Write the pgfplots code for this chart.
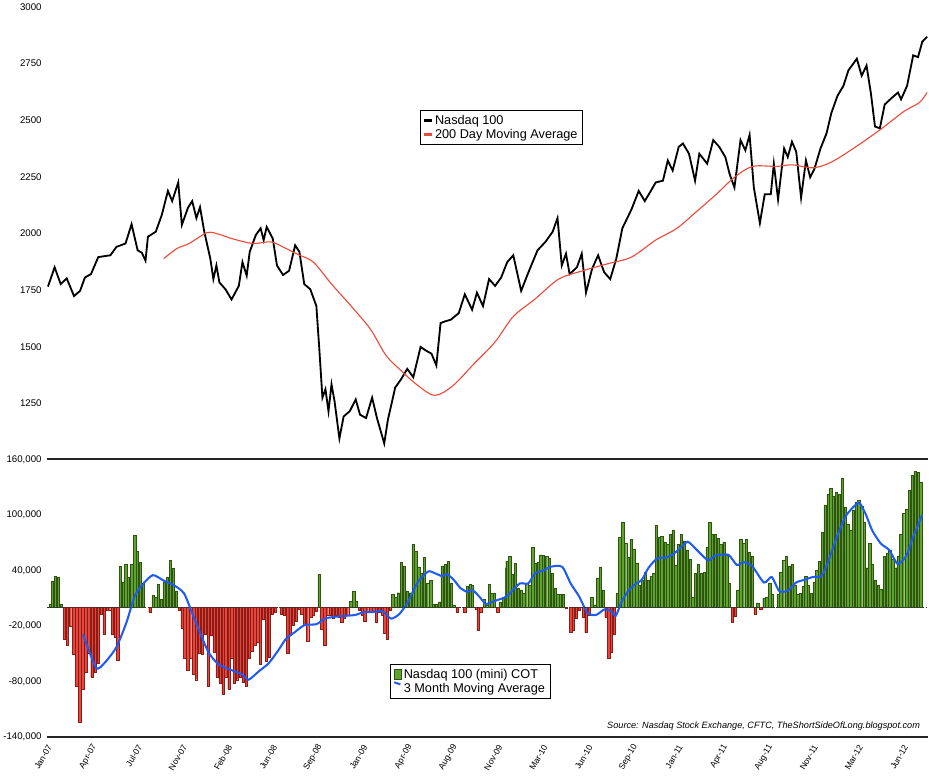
\documentclass[border=0pt]{standalone}
\usepackage{pgfplots}
\pgfplotsset{compat=1.18}
\usepackage{pgfplotstable}
\usepackage{fontspec}
\setmainfont{Liberation Sans}
\definecolor{barg}{HTML}{5EA32C}
\definecolor{bargd}{HTML}{2F5412}
\definecolor{barr}{HTML}{E8453C}
\definecolor{barrd}{HTML}{8A1E17}
\definecolor{maline}{HTML}{1F5BF2}
\definecolor{dma}{HTML}{EE4A3A}

\pgfplotstableread{
zx v
97 1766
108 1851
118 1777
128 1802
140 1724
150 1747
158 1806
168 1821
180 1896
200 1904
210 1941
225 1956
235 2041
245 1926
252 1915
258 1880
262 1986
275 2008
285 2083
295 2188
302 2143
312 2225
318 2038
328 2113
335 2143
342 2068
348 2116
355 2008
365 1889
370 1799
375 1859
380 1784
390 1754
400 1709
412 1769
418 1874
425 1814
430 1919
440 1993
448 2023
453 1971
458 2029
468 1978
475 1859
485 1817
495 1836
505 1948
512 1919
520 1777
530 1754
540 1680
545 1485
550 1276
555 1313
560 1216
565 1335
570 1260
578 1096
585 1193
595 1216
605 1268
612 1201
622 1186
632 1276
640 1186
652 1074
658 1178
665 1260
670 1320
680 1358
690 1403
700 1366
712 1500
720 1485
730 1470
738 1418
745 1605
752 1612
762 1620
775 1649
785 1732
797 1664
805 1739
815 1680
825 1799
835 1769
845 1806
855 1874
865 1904
878 1747
890 1829
905 1926
918 1963
930 2008
938 2068
945 1859
952 1911
958 1821
970 1851
978 1911
985 1739
995 1844
1005 1904
1015 1829
1025 1799
1035 1889
1045 2023
1060 2106
1072 2188
1082 2143
1092 2188
1100 2225
1112 2233
1120 2322
1128 2278
1138 2382
1145 2397
1155 2352
1165 2233
1172 2352
1185 2308
1195 2412
1205 2382
1215 2337
1222 2263
1230 2203
1240 2412
1248 2367
1255 2435
1262 2203
1272 2046
1280 2173
1290 2173
1295 2308
1302 2150
1312 2375
1318 2337
1325 2405
1332 2360
1340 2158
1348 2322
1355 2248
1362 2285
1372 2375
1382 2442
1390 2532
1400 2607
1410 2652
1418 2719
1432 2771
1440 2696
1448 2741
1455 2622
1462 2472
1470 2464
1478 2569
1490 2599
1500 2622
1505 2592
1515 2652
1525 2786
1533 2778
1540 2846
1548 2868
}\nasdaq

\pgfplotstableread{
zx v
288 1889
310 1934
330 1956
360 2004
380 1996
400 1978
435 1956
465 1963
490 1934
510 1907
535 1874
565 1777
600 1672
630 1575
655 1462
680 1395
705 1335
735 1286
765 1328
800 1425
835 1522
865 1634
900 1709
940 1799
980 1836
1020 1866
1060 1896
1100 1971
1135 2023
1165 2091
1200 2173
1230 2248
1260 2296
1300 2296
1325 2303
1360 2290
1390 2315
1430 2382
1470 2457
1510 2539
1535 2577
1548 2622
}\dma

\pgfplotstableread{
zx v
15 4
21 28
30 34
39 33
48 4
57 -34
66 -41
75 -20
84 -50
93 -85
102 -124
111 -88
120 -70
129 -49
138 -75
147 -70
156 -60
165 -7
174 -29
183 -3
190 -3
198 -29
206 -32
214 -57
222 45
230 27
238 47
246 33
255 47
264 78
272 61
281 49
290 26
309 -5
318 13
326 11
334 25
342 9
351 27
360 33
369 51
378 42
386 18
395 -3
404 -22
412 -55
421 -68
429 -55
438 -72
446 -78
455 -49
463 -50
472 -29
481 -85
490 -30
498 -48
507 -75
516 -82
525 -94
533 -75
542 -88
550 -55
558 -82
567 -78
575 -75
584 -81
593 -85
601 -55
609 -47
618 -41
627 -38
635 -61
643 -13
652 -58
661 -54
670 -7
678 -5
696 -7
705 -8
714 -48
}\barsA

\pgfplotstableread{
zx v
10 -49
18 -30
26 -19
35 -15
44 -2
52 -7
60 -19
69 -36
78 -11
86 -8
95 -4
103 36
111 -23
120 -41
128 -8
136 -8
145 -12
153 -8
162 -11
170 -16
178 -12
187 -8
196 7
205 18
213 7
222 -3
230 -8
238 -15
246 -5
255 -5
264 -5
272 -16
281 -5
290 -8
297 -28
304 -34
312 -3
320 14
329 11
337 16
346 49
354 45
363 18
372 16
380 68
388 61
397 44
405 37
414 54
423 26
432 29
440 4
449 4
458 6
466 45
475 47
484 50
492 26
500 2
510 -5
533 -5
540 23
548 25
555 24
566 -2
572 -25
580 -5
590 9
597 3
605 25
612 15
620 15
630 -5
637 6
646 11
655 43
}\barsB

\pgfplotstableread{
zx v
12 50
20 55
28 36
37 48
45 21
54 19
62 15
70 26
79 24
88 65
96 48
104 49
112 57
120 56
129 55
137 53
146 37
154 21
162 14
170 14
178 14
186 -1
200 -27
208 -25
216 -12
225 -3
237 -10
245 -27
254 -8
262 11
271 3
280 32
288 44
296 19
304 -10
312 -55
320 -48
329 -29
337 15
345 76
354 92
362 69
370 54
378 74
386 63
395 48
403 24
411 30
420 38
428 30
437 34
445 37
453 89
461 76
469 77
478 71
486 68
494 79
502 84
510 46
518 68
527 79
535 72
544 62
552 52
560 11
568 37
576 47
585 37
594 38
602 65
610 92
618 79
626 76
}\barsC

\pgfplotstableread{
zx v
12 79
20 75
28 68
37 71
45 56
53 26
62 -16
70 -9
78 19
87 74
95 69
103 74
112 60
120 55
129 -7
137 5
146 -2
155 10
163 11
172 26
180 14
197 14
205 38
213 51
221 55
229 45
238 47
246 24
255 14
263 15
271 23
278 34
286 24
295 15
303 27
311 40
319 50
327 81
335 111
344 122
352 129
360 120
369 125
377 122
386 140
394 108
402 90
411 84
419 105
427 114
435 116
443 109
451 92
459 43
467 69
475 47
484 30
492 24
500 20
510 55
518 59
526 62
535 52
543 43
551 55
559 79
567 102
576 106
584 127
593 143
601 147
610 146
618 135
}\barsD

\pgfplotstableread{
ox v
92.3 -29
105 -65
113.3 -60
125 -43
135 -16
143.3 13
151.7 26
161 35
171.7 29
181.7 24
191.7 15
201.7 -12
215 -47
225 -61
236.7 -67
248.3 -72
255 -78
265 -69
275 -60
285 -45
291.7 -34
300 -27
310 -19
321.7 -18
330 -12
340 -10
350 -9
360 -8
368.3 -5
376.7 -5
386.7 -4
395 -12
403.3 -7
411.7 6
421.7 28
431.7 39
438.3 37
445 34
450 36
456.7 30
463.3 21
470 17
475 19
481.7 12
488.3 4
496.7 7
505 10
510 13
513.3 17
521.7 26
530 26
536.7 37
545 40
551.7 44
563.3 44
571.7 26
580 12
588.3 -6
596.7 -8
605 -2
611.7 -4
616 -9
621.7 6
628.3 18
635 25
641.7 30
648.3 43
656.7 53
665 54
671.7 57
678.3 63
686.7 71
695 63
706.7 51
713.7 56
726.7 57
735 46
741.7 49
750 45
761.7 27
769.3 33
776.7 18
785 18
793.3 27
801.7 30
810 33
818.3 34
825 50
833.3 76
841.7 98
850 109
855.7 113
861.7 101
868.3 83
876.7 69
885 62
893.3 47
901.7 56
908.3 76
917.3 100
}\cotma

\begin{document}
\begin{tikzpicture}[font=\fontsize{9.5}{11}\selectfont]
\pgfplotsset{
  every axis/.append style={scale only axis, width=866pt,
    xmin=57, xmax=923, clip=false,
    tick style={draw=none},
    /pgf/number format/assume math mode=true,
    ticklabel style={font=\fontsize{9.5}{11}\selectfont},
    yticklabel style={xshift=-2pt},
    legend cell align=left,
    legend style={draw=black, line width=0.8pt, fill=white, font=\fontsize{12.5}{15}\selectfont, inner sep=3pt, row sep=-1pt},
    legend image code/.code={\draw[#1, line width=2.5pt] (0cm,0cm) -- (0.25cm,0cm);},
  }
}
% lower panel
\begin{axis}[name=low, at={(0,0)}, height=273pt,
  ymin=-140, ymax=160,
  axis line style={draw=none},
  ytick={-140,-80,-20,40,100,160},
  yticklabels={-140{,}000,-80{,}000,-20{,}000,40{,}000,100{,}000,160{,}000},
  xtick={59.5,103.8,148.1,192.4,236.7,281,325.3,369.6,413.9,458.2,502.5,546.8,591.1,635.4,679.7,724,768.3,812.6,856.9,901.2},
  xticklabels={Jan-07,Apr-07,Jul-07,Nov-07,Feb-08,Jun-08,Sep-08,Jan-09,Apr-09,Aug-09,Nov-09,Mar-10,Jun-10,Sep-10,Jan-11,Apr-11,Aug-11,Nov-11,Mar-12,Jun-12},
  xticklabel style={rotate=60, anchor=east, font=\fontsize{8.5}{10}\selectfont, yshift=-2pt},
  ybar, bar width=2.3pt, bar shift=0pt,
  legend style={at={(0.389,0.264)}, anchor=north west},
]
\addplot[fill=barg, draw=bargd, line width=0.4pt, restrict y to domain=0:1000,
  legend image code/.code={\draw[fill=barg, draw=bargd, line width=0.5pt] (0cm,-0.17cm) rectangle (0.25cm,0.17cm);}] table[x expr=\thisrowno{0}/3+55, y index=1]{\barsA};
\addlegendentry{Nasdaq 100 (mini) COT}
\addplot[forget plot, fill=barr, draw=barrd, line width=0.4pt, restrict y to domain=-1000:0] table[x expr=\thisrowno{0}/3+55, y index=1]{\barsA};
\addplot[forget plot, fill=barg, draw=bargd, line width=0.4pt, restrict y to domain=0:1000] table[x expr=\thisrowno{0}/3+290, y index=1]{\barsB};
\addplot[forget plot, fill=barr, draw=barrd, line width=0.4pt, restrict y to domain=-1000:0] table[x expr=\thisrowno{0}/3+290, y index=1]{\barsB};
\addplot[forget plot, fill=barg, draw=bargd, line width=0.4pt, restrict y to domain=0:1000] table[x expr=\thisrowno{0}/3+505, y index=1]{\barsC};
\addplot[forget plot, fill=barr, draw=barrd, line width=0.4pt, restrict y to domain=-1000:0] table[x expr=\thisrowno{0}/3+505, y index=1]{\barsC};
\addplot[forget plot, fill=barg, draw=bargd, line width=0.4pt, restrict y to domain=0:1000] table[x expr=\thisrowno{0}/3+710, y index=1]{\barsD};
\addplot[forget plot, fill=barr, draw=barrd, line width=0.4pt, restrict y to domain=-1000:0] table[x expr=\thisrowno{0}/3+710, y index=1]{\barsD};
\addplot[sharp plot, maline, line width=2pt, smooth, tension=0.4, mark=none] table[x index=0, y index=1]{\cotma};
\addlegendentry{3 Month Moving Average}
\draw[line width=2pt, black!85] (axis cs:57,160) -- (axis cs:923,160);
\draw[line width=2pt, black!85] (axis cs:57,-140) -- (axis cs:923,-140);
\draw[line width=1.2pt, black!80, dash pattern=on 1.5pt off 1.5pt] (axis cs:57,0) -- (axis cs:923,0);
\node[anchor=east, font=\itshape\fontsize{9}{11}\selectfont] at (rel axis cs:0.995,0.04) {Source: Nasdaq Stock Exchange, CFTC, TheShortSideOfLong.blogspot.com};
\end{axis}
% upper panel
\begin{axis}[at={(0,294.5pt)}, height=423.5pt,
  ymin=1100, ymax=3000,
  axis line style={draw=none},
  xtick=\empty,
  ytick={1250,1500,1750,2000,2250,2500,2750,3000},
  /pgf/number format/1000 sep={},
  legend style={at={(0.423,0.761)}, anchor=north west},
]
\addplot[black, line width=1.8pt, mark=none] table[x expr=\thisrowno{0}*0.5957, y index=1]{\nasdaq};
\addlegendentry{Nasdaq 100}
\addplot[dma, line width=1.1pt, smooth, mark=none] table[x expr=\thisrowno{0}*0.5957, y index=1]{\dma};
\addlegendentry{200 Day Moving Average}
\end{axis}
\end{tikzpicture}
\end{document}
